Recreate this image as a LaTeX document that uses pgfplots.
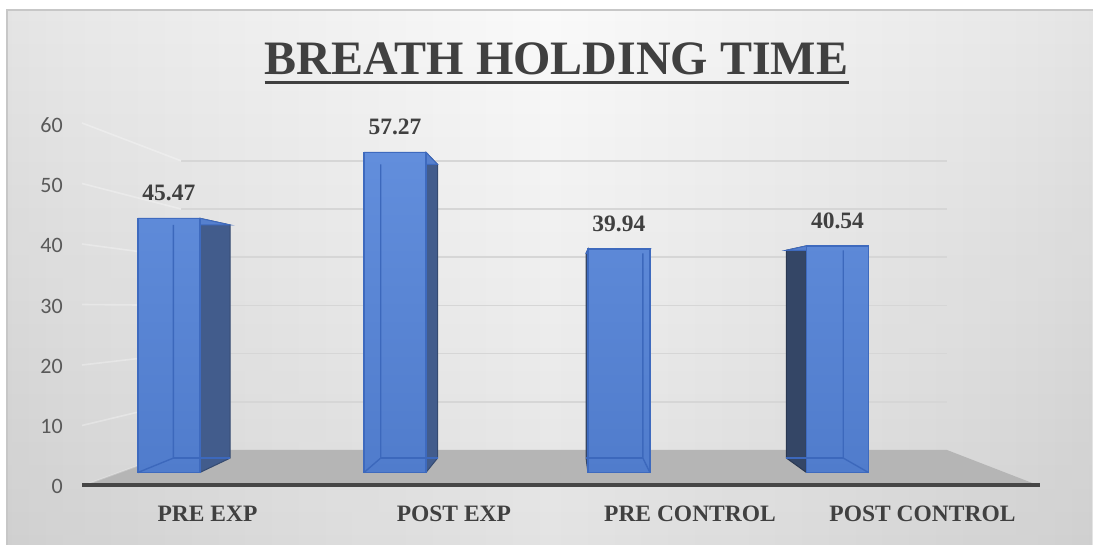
\documentclass[border=0pt]{standalone}
\usepackage{fontspec}
\setmainfont{Liberation Serif}
\newfontfamily\calibri{Carlito}
\usepackage{pgfplots}
\pgfplotsset{compat=1.18}
\usetikzlibrary{calc,fadings}

\definecolor{floorc}{RGB}{181,181,181}
\definecolor{gridc}{RGB}{214,214,214}
\definecolor{axisc}{RGB}{70,70,70}
\definecolor{labc}{RGB}{64,64,64}
\definecolor{tickc}{RGB}{89,89,89}
\definecolor{btop}{RGB}{98,142,220}
\definecolor{bbot}{RGB}{80,124,204}
\definecolor{edgec}{RGB}{62,106,190}
\definecolor{rsidec}{RGB}{66,92,140}
\definecolor{lsidec}{RGB}{52,70,102}
\definecolor{topc}{RGB}{86,128,206}
\definecolor{innerc}{RGB}{60,104,188}

\pgfdeclarehorizontalshading{bgh}{100bp}{color(0bp)=(black!24); color(12bp)=(black!17); color(28bp)=(black!9); color(50bp)=(black!2); color(72bp)=(black!9); color(88bp)=(black!17); color(100bp)=(black!23)}

\begin{document}
\begin{tikzpicture}
\useasboundingbox (0,0) rectangle (546.5pt,272.5pt);
\fill[white] (0,0) rectangle (546.5pt,272.5pt);
\shade[shading=bgh] (3.5pt,0pt) rectangle (546.5pt,267.5pt);
\fill[black, fill opacity=0.09, path fading=north] (3.5pt,0pt) rectangle (546.5pt,267.5pt);
\begin{scope}[x=0.5pt,y=-0.5pt,shift={(0,272.5pt)}]
  \draw[black!22, line width=0.6pt] (7,545) -- (7,10) -- (1093,10);
  % floor
  \fill[floorc] (82,486) -- (181,450) -- (947,450) -- (1040,486) -- cycle;
  % walls gridlines
  \foreach \t in {10,20,30,40,50,60} {
    \draw[gridc, line width=0.8pt] (181,{450-4.82*\t}) -- (947,{450-4.82*\t});
    \draw[white, opacity=0.3, line width=0.8pt] (82,{486-6.05*\t}) -- (181,{450-4.82*\t});
  }
  \draw[white, opacity=0.25, line width=0.8pt] (82,486) -- (181,450);
  \draw[axisc, line width=1.6pt] (82,485) -- (1040,485);
  % title
  \node[anchor=base, inner sep=0pt, text=labc, font=\fontsize{24}{28}\selectfont\bfseries] (t) at (556.5,75) {BREATH HOLDING TIME};
  \draw[labc, line width=1.5pt] ([yshift=-3.6pt]t.base west) -- ([yshift=-3.6pt]t.base east);
\end{scope}

\begin{axis}[at={(0,0)}, anchor=south west, scale only axis,
  width=546.5pt, height=272.5pt,
  xmin=-0.76233, xmax=4.13901, ymin=-12.970, ymax=84.526,
  axis line style={draw=none}, major tick length=0pt,
  ytick={-2.504,8.259,19.023,29.787,40.551,51.315,62.079},
  yticklabels={0,10,20,30,40,50,60},
  yticklabel style={anchor=east, inner sep=0pt, xshift=31.6pt, font=\calibri\fontsize{11}{13}\selectfont, text=tickc},
  xtick={0.1682,1.2731,2.3318,3.3744},
  xticklabels={PRE EXP, POST EXP, PRE CONTROL, POST CONTROL},
  xticklabel style={anchor=base, inner sep=0pt, yshift=11.5pt, font=\fontsize{11.75}{14}\selectfont\bfseries, text=labc},
  clip=false]

% side faces
\addplot[fill=rsidec, draw=rsidec!80!black, line width=0.5pt, mark=none] coordinates {(0.134,0) (0.2700,2.581) (0.2700,44.277) (0.134,45.47) (0.134,0)};
\addplot[fill=rsidec, draw=rsidec!80!black, line width=0.5pt, mark=none] coordinates {(1.148,0) (1.1998,2.581) (1.1998,55.098) (1.148,57.27) (1.148,0)};
\addplot[fill=lsidec, draw=lsidec, line width=0.5pt, mark=none] coordinates {(1.874,0) (1.8656,2.581) (1.8656,39.206) (1.874,39.94) (1.874,0)};
\addplot[fill=lsidec, draw=lsidec!80!black, line width=0.5pt, mark=none] coordinates {(2.854,0) (2.7642,2.581) (2.7642,39.756) (2.854,40.54) (2.854,0)};
% top faces
\addplot[fill=topc, draw=edgec, line width=0.5pt, mark=none] coordinates {(-0.144,45.47) (0.134,45.47) (0.2700,44.277) (0.0151,44.277) (-0.144,45.47)};
\addplot[fill=topc, draw=edgec, line width=0.5pt, mark=none] coordinates {(0.870,57.27) (1.148,57.27) (1.1998,55.098) (0.9449,55.098) (0.870,57.27)};
\addplot[fill=topc, draw=edgec, line width=0.5pt, mark=none] coordinates {(1.874,39.94) (2.152,39.94) (2.1205,39.206) (1.8656,39.206) (1.874,39.94)};
\addplot[fill=topc, draw=edgec, line width=0.5pt, mark=none] coordinates {(2.854,40.54) (3.132,40.54) (3.0191,39.756) (2.7642,39.756) (2.854,40.54)};
% front faces
\addplot[ybar, bar width=0.278, draw=edgec, line width=0.8pt, top color=btop, bottom color=bbot,
  nodes near coords, point meta=explicit symbolic,
  every node near coord/.append style={anchor=base, inner sep=0pt, yshift=8.75pt, font=\fontsize{11.75}{14}\selectfont\bfseries, text=labc}]
  coordinates {(-0.005,45.47) [45.47] (1.009,57.27) [57.27] (2.013,39.94) [39.94] (2.993,40.54) [40.54]};
% inner (back) edges seen through the bars
\addplot[innerc, line width=0.7pt, mark=none] coordinates {(-0.144,0) (0.0151,2.581) (0.0151,44.277)};
\addplot[innerc, line width=0.7pt, mark=none] coordinates {(0.0151,2.581) (0.2700,2.581)};
\addplot[innerc, line width=0.7pt, mark=none] coordinates {(0.870,0) (0.9449,2.581) (0.9449,55.098)};
\addplot[innerc, line width=0.7pt, mark=none] coordinates {(0.9449,2.581) (1.1998,2.581)};
\addplot[innerc, line width=0.7pt, mark=none] coordinates {(2.152,0) (2.1205,2.581) (2.1205,39.206)};
\addplot[innerc, line width=0.7pt, mark=none] coordinates {(1.8656,2.581) (2.1205,2.581)};
\addplot[innerc, line width=0.7pt, mark=none] coordinates {(3.132,0) (3.0191,2.581) (3.0191,39.756)};
\addplot[innerc, line width=0.7pt, mark=none] coordinates {(2.7642,2.581) (3.0191,2.581)};
\end{axis}
\end{tikzpicture}
\end{document}
